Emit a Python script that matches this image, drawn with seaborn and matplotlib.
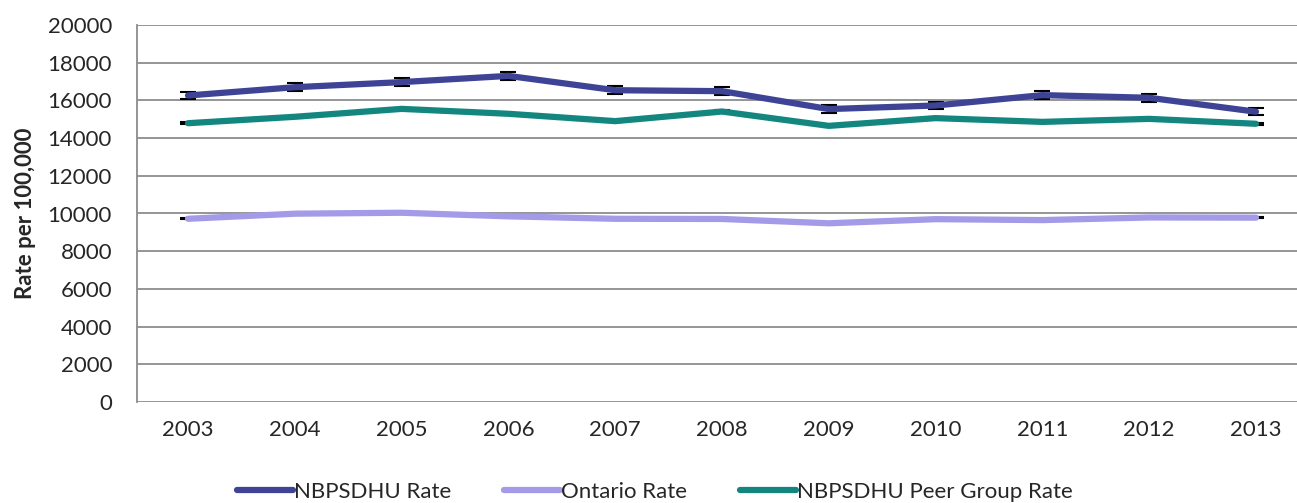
import pandas as pd
import matplotlib
matplotlib.use("Agg")
import matplotlib.pyplot as plt
import seaborn as sns

# values
years = ["2003", "2004", "2005", "2006", "2007", "2008", "2009", "2010", "2011", "2012", "2013"]
nbpsdhu_rate = [16260, 16700, 16970, 17300, 16540, 16490, 15540, 15730, 16280, 16140, 15400]
ontario_rate = [9720, 9990, 10040, 9850, 9720, 9710, 9480, 9700, 9650, 9790, 9780]
peer_rate = [14790, 15130, 15550, 15290, 14900, 15410, 14650, 15060, 14860, 15020, 14760]
nbpsdhu_err = [200, 200, 200, 200, 200, 200, 200, 200, 200, 200, 200]
ontario_err = [15] * 11
peer_err = [60] * 11

series = ["NBPSDHU Rate", "Ontario Rate", "NBPSDHU Peer Group Rate"]
colors = ["#3F4396", "#A39AE8", "#13877F"]

df = pd.DataFrame({
    "Year": years * 3,
    "Rate": nbpsdhu_rate + ontario_rate + peer_rate,
    "Series": [series[0]] * 11 + [series[1]] * 11 + [series[2]] * 11,
})

sns.set_theme(style="white")
plt.rcParams["font.family"] = ["Lato", "DejaVu Sans"]

fig = plt.figure(figsize=(12.97, 5.03), dpi=100)
ax = fig.add_axes([137 / 1297, 101 / 503, 1160 / 1297, 377 / 503])

# error bars first so the lines sit on top
for vals, errs in [(nbpsdhu_rate, nbpsdhu_err), (ontario_rate, ontario_err), (peer_rate, peer_err)]:
    ax.errorbar(range(len(years)), vals, yerr=errs, fmt="none", ecolor="black",
                elinewidth=1.3, capsize=6, capthick=1.5, zorder=2)

sns.lineplot(data=df, x="Year", y="Rate", hue="Series", palette=colors,
             linewidth=4.5, ax=ax, legend=True, sort=False, zorder=3)

ax.set_xlim(-0.4775, 10.384)
ax.set_ylim(0, 20000)
ax.set_yticks(range(0, 20001, 2000))
ax.yaxis.grid(True, color="#8C8C8C", linewidth=1.3)
ax.xaxis.grid(False)
for side in ["top", "right", "bottom"]:
    ax.spines[side].set_visible(False)
ax.spines["left"].set_color("#8C8C8C")
ax.spines["left"].set_linewidth(1.3)
ax.tick_params(axis="y", length=0, pad=18, labelsize=16)
ax.tick_params(axis="x", length=0, pad=13, labelsize=16)
ax.set_xlabel("")
ax.set_ylabel("Rate per 100,000", fontsize=16, fontweight="bold", labelpad=8)

handles, labels = ax.get_legend_handles_labels()
ax.get_legend().remove()
fig.legend(handles, labels, loc="center", bbox_to_anchor=(0.505, 0.022), ncol=3,
           frameon=False, fontsize=16, handlelength=2.5, handletextpad=0.05,
           columnspacing=2.4)

fig.savefig("out.png", dpi=100)
